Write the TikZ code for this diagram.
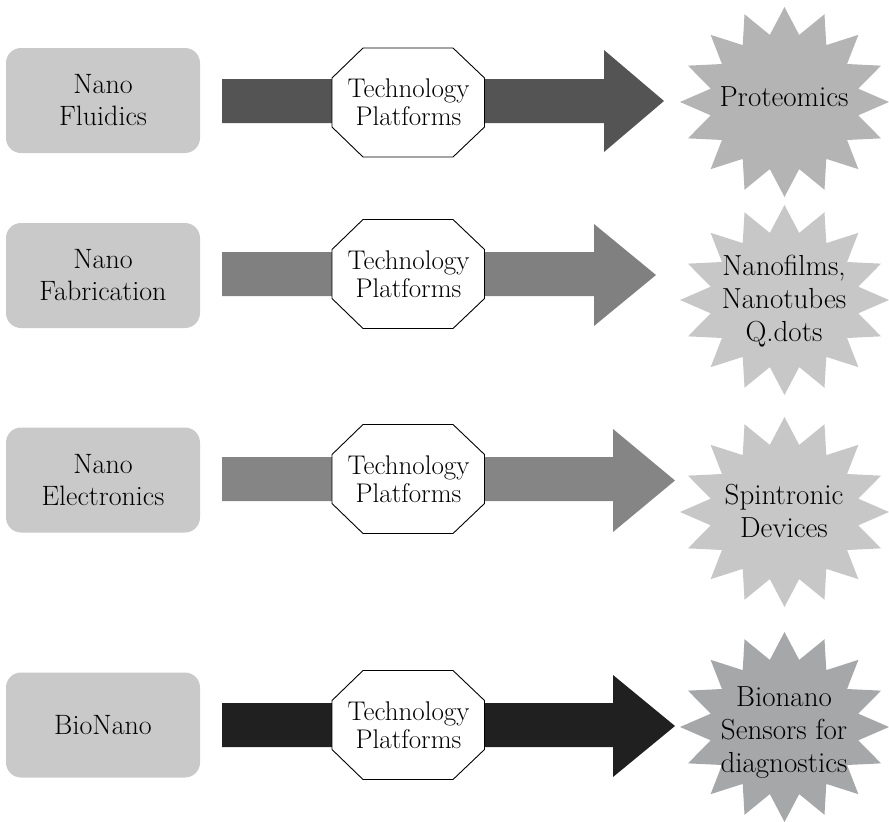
\documentclass[tikz,border=0pt]{standalone}
\definecolor{boxgray}{RGB}{200,201,200}
\definecolor{arrA}{RGB}{84,84,84}
\definecolor{arrB}{RGB}{128,128,128}
\definecolor{arrC}{RGB}{133,133,133}
\definecolor{arrD}{RGB}{32,32,32}
\definecolor{starA}{RGB}{180,180,180}
\definecolor{starB}{RGB}{198,199,198}
\definecolor{starD}{RGB}{166,167,169}
\tikzset{
  srcbox/.style={fill=boxgray, rounded corners=15pt, minimum width=194pt, minimum height=105pt,
    align=center, inner sep=0pt, font=\rmfamily\fontsize{28}{32}\selectfont, text=black},
  techtext/.style={align=center, inner sep=0pt, font=\rmfamily\fontsize{27}{28}\selectfont, text=black},
  startext/.style={align=center, inner sep=0pt, font=\rmfamily\fontsize{29}{33}\selectfont, text=black},
  octa/.style={fill=white, draw=black, line width=0.9pt},
}
\newcommand\octpath[1]{%
  \draw[octa] ($(#1)+(-76.5,-24.5)$) -- ++(31,-30) -- ++(90,0) -- ++(31.5,30) -- ++(0,49)
    -- ++(-31.5,30) -- ++(-90,0) -- ++(-31,-30) -- cycle;}
\newcommand\starfill[5]{% color, cx, cy, rx, ry
  \fill[#1] plot[samples at={0,...,31}]
    ({#2+#4*(1-0.28*mod(\x,2))*cos(90+11.25*\x)},{#3+#5*(1-0.28*mod(\x,2))*sin(90+11.25*\x)}) -- cycle;}
\usetikzlibrary{calc}
\begin{document}
\begin{tikzpicture}[x=1pt,y=-1pt]
\useasboundingbox (0,0) rectangle (889,822);

% stars
\starfill{starA}{784.5}{102}{104.5}{95}
\starfill{starB}{784.5}{300}{104.5}{95}
\starfill{starB}{784.5}{512}{104.5}{95}
\starfill{starD}{784.5}{727}{104.5}{95}
\node[startext] (s1) at (784,97) {Proteomics};
\node[startext] (s2) at (784,301) {Nanofilms,\\Nanotubes\\Q.dots};
\node[startext] (s3) at (784,511) {Spintronic\\Devices};
\node[startext] (s4) at (784,733) {Bionano\\Sensors for\\diagnostics};

% source boxes
\node[srcbox] (b1) at (103,100.5) {Nano\\Fluidics};
\node[srcbox] (b2) at (103,275.5) {Nano\\Fabrication};
\node[srcbox] (b3) at (103,480) {Nano\\Electronics};
\node[srcbox] (b4) at (103,725) {BioNano};

% block arrows
\fill[arrA] (222,79) -- (604,79) -- (604,50) -- (664,101) -- (604,152) -- (604,123) -- (222,123) -- cycle;
\fill[arrB] (222,252) -- (594,252) -- (594,224) -- (656,275) -- (594,326) -- (594,296) -- (222,296) -- cycle;
\fill[arrC] (222,457) -- (613,457) -- (613,429) -- (675,480.5) -- (613,532) -- (613,501) -- (222,501) -- cycle;
\fill[arrD] (222,703) -- (613,703) -- (613,675) -- (675,726) -- (613,777) -- (613,747) -- (222,747) -- cycle;

% technology platforms
\coordinate (o1) at (408.5,102.5);
\coordinate (o2) at (408.5,274);
\coordinate (o3) at (408.5,479);
\coordinate (o4) at (408.5,725);
\octpath{o1}\octpath{o2}\octpath{o3}\octpath{o4}
\node[techtext] (t1) at (o1) {Technology\\Platforms};
\node[techtext] (t2) at (o2) {Technology\\Platforms};
\node[techtext] (t3) at (o3) {Technology\\Platforms};
\node[techtext] (t4) at (o4) {Technology\\Platforms};
\end{tikzpicture}
\end{document}
